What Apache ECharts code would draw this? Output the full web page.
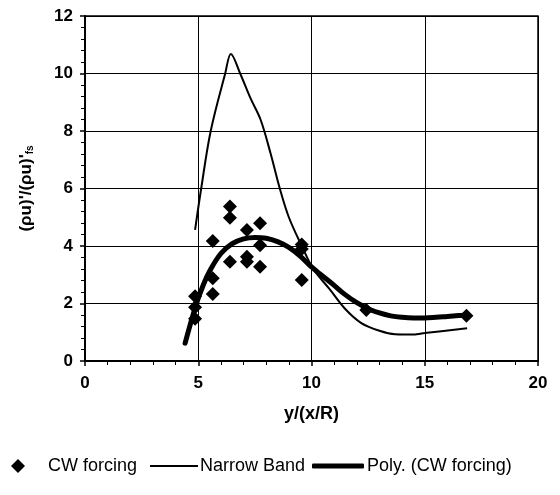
<!DOCTYPE html>
<html>
<head>
<meta charset="utf-8">
<script src="https://cdn.jsdelivr.net/npm/echarts@6/dist/echarts.min.js"></script>
<style>
html,body{margin:0;padding:0;background:#fff;}
#c{width:560px;height:495px;}
</style>
</head>
<body>
<div id="c"></div>
<script>
// CW forcing (scatter)
var cwX = [4.86,4.86,4.86,5.64,5.64,5.64,6.4,6.4,6.4,7.15,7.15,7.15,7.73,7.73,7.73,9.57,9.57,9.57,12.42,16.84];
var cwY = [2.25,1.87,1.47,4.17,2.88,2.33,5.37,4.98,3.45,4.56,3.63,3.45,4.79,4.03,3.28,4.05,3.9,2.82,1.77,1.57];
// Narrow Band (thin line)
var nbX = [4.86,5.13,5.55,6.19,6.44,6.85,7.3,7.75,8.2,8.6,9.0,9.57,10.08,10.8,11.5,12.2,13.0,13.7,14.4,15.0,16.87];
var nbY = [4.56,6.0,8.0,10.0,10.68,10.0,9.15,8.4,7.2,6.0,5.0,4.0,3.2,2.5,1.8,1.32,1.05,0.93,0.92,0.97,1.14];
// Poly. (CW forcing) trendline
var polyX = [4.42,4.9,5.2,5.5,6,6.5,7,7.5,8,8.5,9,9.5,10,10.5,11,11.5,12,12.5,13,13.5,14,14.5,15,15.5,16,16.5,16.84];
var polyY = [0.62,1.95,2.6,3.12,3.74,4.08,4.25,4.3,4.27,4.15,3.95,3.65,3.27,2.95,2.63,2.3,2.03,1.82,1.67,1.57,1.52,1.5,1.5,1.52,1.55,1.58,1.6];
var xTicks = [0,5,10,15,20];
var yTicks = [0,2,4,6,8,10,12];

function pairs(xs, ys){ return xs.map(function(x,i){return [x, ys[i]];}); }

var FONT = 'Liberation Sans, Arial, sans-serif';
var LEG_TOP = 457;
var chart = echarts.init(document.getElementById('c'), null, {renderer:'canvas'});
chart.setOption({
  animation:false,
  backgroundColor:'#fff',
  textStyle:{fontFamily:FONT, color:'#000'},
  grid:{left:85, right:22, top:16, bottom:134, show:true, borderColor:'#000', borderWidth:1.5, backgroundColor:'transparent'},
  xAxis:{
    type:'value', min:xTicks[0], max:xTicks[xTicks.length-1], interval:5,
    name:'y/(x/R)', nameLocation:'middle', nameGap:44,
    nameTextStyle:{fontFamily:FONT, fontWeight:'bold', fontSize:18, color:'#000'},
    axisLine:{show:true, lineStyle:{color:'#000', width:2}},
    axisTick:{show:true, inside:false, length:5, lineStyle:{color:'#000', width:1.5}},
    minorTick:{show:true, splitNumber:5, length:4, lineStyle:{color:'#000', width:1}},
    splitLine:{show:true, lineStyle:{color:'#000', width:1}},
    axisLabel:{fontFamily:FONT, fontWeight:'bold', fontSize:17, color:'#000', margin:14}
  },
  yAxis:{
    type:'value', min:yTicks[0], max:yTicks[yTicks.length-1], interval:2,
    name:"(ρu)'/(ρu)'{s|fs}", nameLocation:'middle', nameGap:50,
    nameTextStyle:{fontFamily:FONT, fontWeight:'bold', fontSize:17, color:'#000',
      rich:{s:{fontFamily:FONT, fontWeight:'bold', fontSize:10, color:'#000', padding:[8,0,0,0]}}},
    axisLine:{show:true, lineStyle:{color:'#000', width:2}},
    axisTick:{show:true, inside:false, length:5, lineStyle:{color:'#000', width:1.5}},
    minorTick:{show:true, splitNumber:5, length:4, lineStyle:{color:'#000', width:1}},
    splitLine:{show:true, lineStyle:{color:'#000', width:1}},
    axisLabel:{fontFamily:FONT, fontWeight:'bold', fontSize:17, color:'#000', margin:12}
  },
  legend:[
    {data:[{name:'CW forcing', icon:'diamond'}], left:11, top:LEG_TOP, padding:0, itemWidth:14, itemHeight:14, itemGap:0,
     itemStyle:{color:'#000', opacity:1},
     textStyle:{fontFamily:FONT, fontSize:18, color:'#000', padding:[0,0,0,18]}},
    {data:[{name:'Narrow Band', icon:'rect'}], left:150, top:LEG_TOP, padding:0, itemWidth:48, itemHeight:2, itemGap:0,
     textStyle:{fontFamily:FONT, fontSize:18, color:'#000', padding:[0,0,0,-3]}},
    {data:[{name:'Poly. (CW forcing)', icon:'roundRect'}], left:312, top:LEG_TOP, padding:0, itemWidth:52, itemHeight:5, itemGap:0,
     textStyle:{fontFamily:FONT, fontSize:18, color:'#000', padding:[0,0,0,-2]}}
  ],
  series:[
    {name:'Narrow Band', type:'line', smooth:0.35, symbol:'none', data:pairs(nbX, nbY),
     lineStyle:{color:'#000', width:2}, itemStyle:{color:'#000'}, z:2},
    {name:'Poly. (CW forcing)', type:'line', smooth:0.4, symbol:'none', data:pairs(polyX, polyY),
     lineStyle:{color:'#000', width:5, cap:'round'}, itemStyle:{color:'#000'}, z:3},
    {name:'CW forcing', type:'scatter', symbol:'diamond', symbolSize:14, data:pairs(cwX, cwY),
     itemStyle:{color:'#000', opacity:1}, z:4}
  ]
});
</script>
</body>
</html>
